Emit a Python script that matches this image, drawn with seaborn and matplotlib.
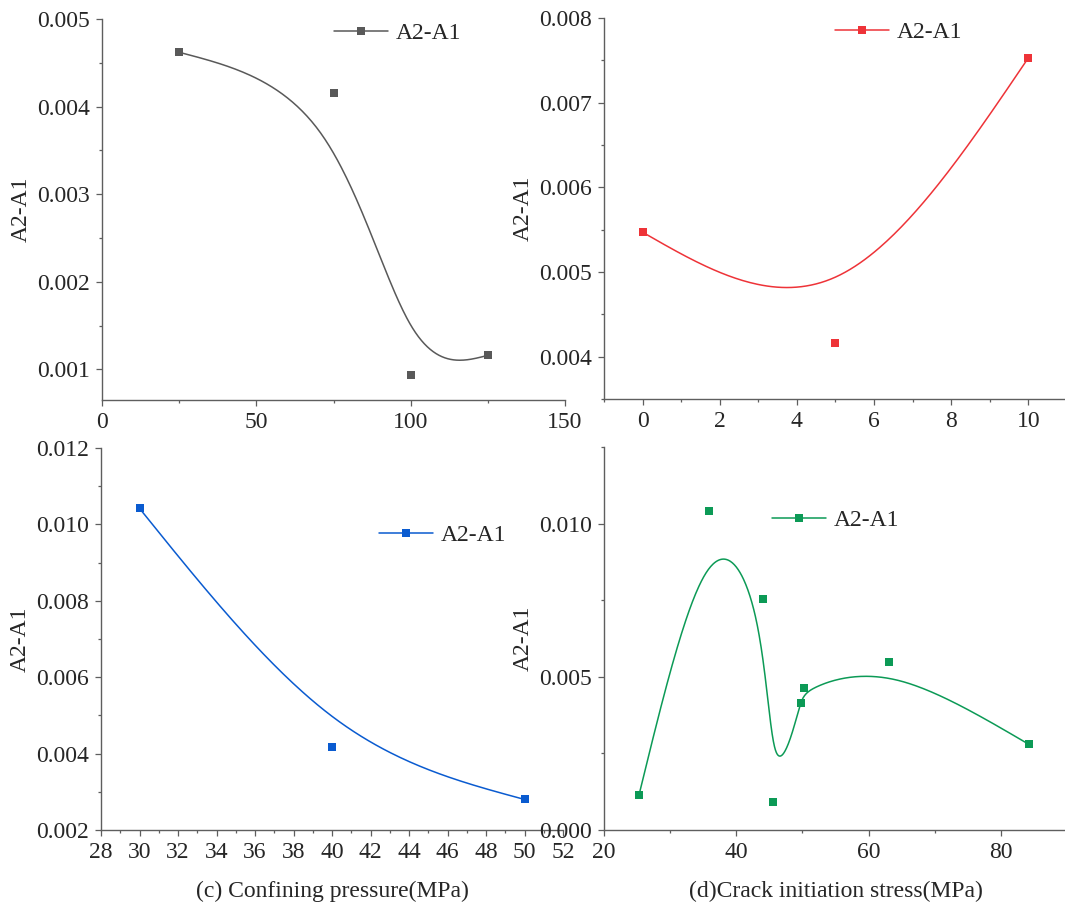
import numpy as np
import matplotlib
matplotlib.use("Agg")
import matplotlib.pyplot as plt
import seaborn as sns
from matplotlib.lines import Line2D
from matplotlib.ticker import MultipleLocator, AutoMinorLocator, FormatStrFormatter

# data
temp_x = [25, 75, 100, 125]
temp_y = [0.00462, 0.00416, 0.00093, 0.00116]

osm_x = [0, 5, 10]
osm_y = [0.00547, 0.00416, 0.00753]

conf_x = [30, 40, 50]
conf_y = [0.01042, 0.00416, 0.00280]

crack_x = [25.3, 35.8, 44.1, 45.5, 49.8, 50.2, 63.1, 84.2]
crack_y = [0.00115, 0.01042, 0.00753, 0.00093, 0.00416, 0.00462, 0.00547, 0.00280]

series_label = "A2-A1"
x_labels = ["(a) Temperature(\u00b0C)", "(b) Osmotic pressure(MPa)",
            "(c) Confining pressure(MPa)", "(d)Crack initiation stress(MPa)"]


def bspline(xs, ys, n=80):
    # uniform cubic B-spline through the end points (like Origin's B-Spline connect)
    p = np.column_stack([xs, ys]).astype(float)
    p = np.vstack([2 * p[0] - p[1], p, 2 * p[-1] - p[-2]])
    u = np.linspace(0, 1, n)[:, None]
    b0 = (1 - u) ** 3 / 6
    b1 = (3 * u ** 3 - 6 * u ** 2 + 4) / 6
    b2 = (-3 * u ** 3 + 3 * u ** 2 + 3 * u + 1) / 6
    b3 = u ** 3 / 6
    segs = [b0 * p[i] + b1 * p[i + 1] + b2 * p[i + 2] + b3 * p[i + 3] for i in range(len(p) - 3)]
    c = np.vstack(segs)
    return c[:, 0], c[:, 1]


sns.set_style("ticks")
plt.rcParams["font.family"] = ["Liberation Serif", "DejaVu Serif"]

W, H = 1065, 908
fig = plt.figure(figsize=(W / 100, H / 100), dpi=100)

spine_col = "#5e5e5e"
fs = 17


def px_axes(left, top, right, bottom):
    return fig.add_axes([left / W, 1 - bottom / H, (right - left) / W, (bottom - top) / H])


panels = [
    dict(box=(102, 19, 565, 400), x=temp_x, y=temp_y, color="#595959",
         xlim=(0, 150), ylim=(0.00065, 0.005), xmaj=50, ymaj=0.001, leg=(334, 33), xl=x_labels[0]),
    dict(box=(604, 18, 1067, 399), x=osm_x, y=osm_y, color="#EE3338",
         xlim=(-1, 11), ylim=(0.0035, 0.008), xmaj=2, ymaj=0.001, leg=(835, 32), xl=x_labels[1]),
    dict(box=(101, 448, 563, 830), x=conf_x, y=conf_y, color="#0A5BD0",
         xlim=(28, 52), ylim=(0.002, 0.012), xmaj=2, ymaj=0.002, leg=(379, 535), xl=x_labels[2]),
    dict(box=(604, 447, 1067, 830), x=crack_x, y=crack_y, color="#0C9A56",
         xlim=(20, 90), ylim=(0.0, 0.0125), xmaj=20, ymaj=0.005, leg=(772, 520), xl=x_labels[3]),
]

for p in panels:
    ax = px_axes(*p["box"])
    cx, cy = bspline(p["x"], p["y"])
    sns.lineplot(x=cx, y=cy, sort=False, estimator=None, color=p["color"], lw=1.1, ax=ax)
    sns.scatterplot(x=p["x"], y=p["y"], marker="s", s=36, color=p["color"],
                    edgecolor=p["color"], linewidth=0, ax=ax, zorder=3, clip_on=False)

    ax.set_xlim(*p["xlim"])
    ax.set_ylim(*p["ylim"])
    ax.xaxis.set_major_locator(MultipleLocator(p["xmaj"]))
    ax.yaxis.set_major_locator(MultipleLocator(p["ymaj"]))
    ax.xaxis.set_minor_locator(AutoMinorLocator(2))
    ax.yaxis.set_minor_locator(AutoMinorLocator(2))
    ax.yaxis.set_major_formatter(FormatStrFormatter("%.3f"))

    for s in ["top", "right"]:
        ax.spines[s].set_visible(False)
    for s in ["left", "bottom"]:
        ax.spines[s].set_color(spine_col)
        ax.spines[s].set_linewidth(1.0)
    ax.tick_params(which="major", direction="out", length=4.5, width=0.9,
                   color=spine_col, labelsize=fs, pad=4)
    ax.tick_params(which="minor", direction="out", length=2.5, width=0.9, color=spine_col)

    ax.set_xlabel(p["xl"], fontsize=fs, labelpad=13)
    ax.set_ylabel(series_label, fontsize=fs, labelpad=4)

    handle = Line2D([], [], color=p["color"], lw=1.1, marker="s", markersize=6,
                    markeredgewidth=0)
    ax.legend([handle], [series_label], loc="center left", frameon=False, fontsize=fs,
              bbox_to_anchor=(p["leg"][0] / W, 1 - p["leg"][1] / H),
              bbox_transform=fig.transFigure, borderpad=0, borderaxespad=0,
              handlelength=2.3, handletextpad=0.3)

fig.savefig("out.png", dpi=100)
